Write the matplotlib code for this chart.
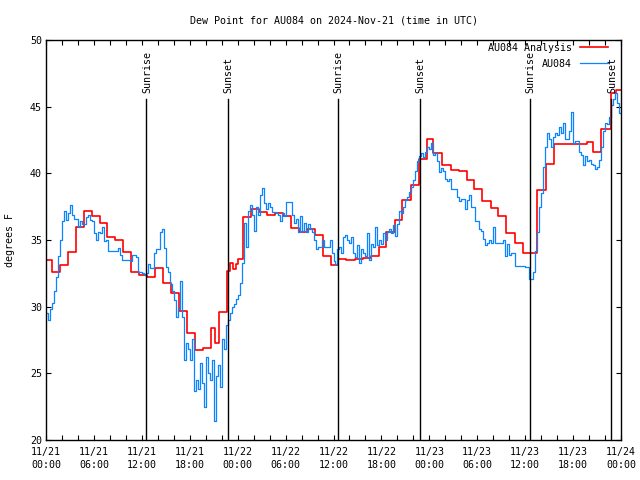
import numpy as np
import matplotlib
matplotlib.use("Agg")
import matplotlib.pyplot as plt

# analysis (hourly-ish steps): hours since 11/21 00:00 UTC, dew point F
red_t = [0, 0.7, 1.7, 2.7, 3.7, 4.7, 5.7, 6.7, 7.7, 8.7, 9.7, 10.7, 11.7,
         12.7, 13.7, 14.7, 15.7, 16.7, 17.7, 18.7, 19.7, 20.7, 21.2, 21.7,
         22.7, 23.0, 23.4, 23.8, 24.1, 24.7, 25.7, 26.7, 27.7, 28.7, 29.7,
         30.7, 31.7, 32.7, 33.7, 34.7, 35.7, 36.6, 37.6, 38.7, 39.7, 40.7,
         41.7, 42.6, 43.7, 44.6, 45.7, 46.7, 47.75, 48.5, 49.6, 50.7, 51.7,
         52.7, 53.6, 54.6, 55.7, 56.6, 57.6, 58.7, 59.7, 61.5, 62.6, 63.6,
         67.7, 68.5, 69.5, 70.7, 71.4, 72]
red_v = [33.5, 32.6, 33.1, 34.1, 35.95, 37.15, 36.8, 36.25, 35.2, 35.0, 34.1,
         32.6, 32.35, 32.2, 32.9, 31.8, 31.0, 29.7, 28.05, 26.75, 26.9, 28.4,
         27.25, 29.6, 32.7, 33.3, 32.8, 33.2, 33.55, 36.7, 37.3, 37.1, 36.9,
         37.0, 36.8, 35.9, 35.6, 35.8, 35.4, 33.8, 33.1, 33.55, 33.5, 33.55,
         33.67, 33.8, 34.5, 35.6, 36.5, 38.0, 39.1, 41.05, 42.55, 41.55, 40.6,
         40.25, 40.15, 39.5, 38.8, 37.95, 37.4, 36.8, 35.5, 34.75, 34.0, 38.75,
         40.7, 42.2, 42.35, 41.6, 43.3, 46.0, 46.25, 46.25]

# station obs, every 15 minutes from 11/21 00:00
blue_v = [
    29.5, 29.0, 29.8, 30.3, 31.2, 32.2, 33.8, 35.0, 36.4, 37.2, 36.5, 37.0,
    37.6, 36.9, 36.6, 36.6, 36.0, 36.4, 36.2, 36.2, 36.7, 36.9, 36.5, 36.4,
    35.5, 35.0, 35.6, 35.5, 36.0, 34.9, 35.0, 34.2, 34.2, 34.2, 34.2, 34.2,
    34.4, 33.9, 33.5, 33.5, 33.5, 33.5, 33.4, 33.9, 33.9, 33.7, 32.6, 32.6,
    32.5, 32.4, 32.5, 33.2, 32.9, 32.9, 34.0, 34.3, 34.3, 35.6, 35.8, 34.4,
    33.0, 32.6, 31.7, 31.2, 30.5, 29.2, 29.8, 31.9, 29.2, 26.0, 27.3, 26.8,
    26.0, 27.6, 23.7, 24.5, 23.8, 25.8, 24.3, 22.5, 26.2, 25.0, 24.5, 26.0,
    21.4, 24.8, 25.6, 24.0, 27.6, 26.8, 28.6, 29.0, 29.5, 30.0, 30.2, 30.6,
    30.9, 31.8, 33.3, 36.3, 34.5, 37.2, 37.6, 36.9, 35.7, 37.5, 36.9, 38.4,
    38.9, 37.8, 37.3, 37.8, 37.5, 37.1, 37.1, 37.0, 36.9, 36.4, 37.0, 36.8,
    37.85, 37.85, 37.85, 36.9, 36.3, 36.6, 35.6, 36.8, 35.7, 36.3, 35.6, 36.2,
    35.8, 35.6, 35.0, 34.3, 34.5, 34.5, 35.0, 34.5, 34.5, 34.5, 35.0, 34.0,
    33.4, 33.2, 34.3, 34.5, 34.0, 35.2, 35.4, 35.0, 34.8, 35.2, 34.0, 33.7,
    34.6, 33.3, 34.3, 34.0, 33.8, 35.5, 33.5, 34.7, 34.5, 36.0, 34.6, 35.0,
    34.7, 35.5, 35.0, 35.6, 35.8, 35.5, 36.1, 35.3, 36.2, 37.2, 37.0, 37.5,
    38.0, 38.2, 38.6, 39.0, 39.5, 40.2, 40.9, 41.3, 41.5, 41.2, 41.6, 42.0,
    41.8, 42.3, 41.4, 41.5, 40.9, 40.1, 40.4, 40.2, 39.6, 39.4, 39.6, 38.8,
    38.8, 38.8, 38.2, 37.9, 38.1, 38.1, 37.3, 38.0, 38.4, 37.5, 37.5, 36.4,
    36.4, 35.8, 35.7, 35.1, 34.6, 34.8, 35.0, 34.8, 36.0, 34.75, 34.75, 34.75,
    34.75, 35.0, 33.8, 34.7, 33.9, 34.0, 34.0, 33.05, 33.05, 33.05, 33.05, 33.05,
    33.0, 33.0, 32.05, 32.05, 32.6, 34.2, 35.6, 37.5, 38.5, 40.5, 42.0, 43.0,
    42.6, 42.0, 42.7, 43.0, 42.9, 43.5, 43.0, 43.8, 42.6, 42.6, 43.2, 44.6,
    42.3, 42.4, 42.4, 41.6, 41.4, 40.6, 41.3, 40.9, 41.0, 40.7, 40.6, 40.3,
    40.5, 41.0, 42.0, 43.2, 43.8, 43.7, 44.2, 45.1, 45.6, 46.0, 45.3, 44.5,
    44.5]

sun_t = [12.55, 22.78, 36.55, 46.79, 60.55, 70.8]
sun_lbl = ["Sunrise", "Sunset", "Sunrise", "Sunset", "Sunrise", "Sunset"]

xtick_pos = list(range(0, 73, 6))
xtick_lbl = ["11/21\n00:00", "11/21\n06:00", "11/21\n12:00", "11/21\n18:00",
             "11/22\n00:00", "11/22\n06:00", "11/22\n12:00", "11/22\n18:00",
             "11/23\n00:00", "11/23\n06:00", "11/23\n12:00", "11/23\n18:00",
             "11/24\n00:00"]

plt.rcParams['font.family'] = 'DejaVu Sans Mono'
plt.rcParams['font.size'] = 7.2

fig = plt.figure(figsize=(6.4, 4.8), dpi=100)
ax = fig.add_axes([46/640, 40/480, 575/640, 400/480])

blue_t = np.arange(len(blue_v)) * 0.25
ax.step(red_t, red_v, where='post', color='#ff0000', lw=1.2, label='AU084 Analysis')
ax.step(blue_t, blue_v, where='post', color='#0a84ff', lw=0.9, label='AU084')

for t, lbl in zip(sun_t, sun_lbl):
    ax.plot([t, t], [20, 45.6], color='black', lw=1.0)
    ax.text(t + 0.1, 46.05, lbl, rotation=90, ha='center', va='bottom')

ax.set_xlim(0, 72)
ax.set_ylim(20, 50)
ax.set_xticks(xtick_pos)
ax.set_xticklabels(xtick_lbl, linespacing=1.4)
ax.set_xticks(range(0, 73, 2), minor=True)
ax.set_yticks(range(20, 51, 5))
ax.tick_params(which='both', direction='in', top=True, right=True, length=3.5, width=0.8, pad=3)
ax.tick_params(axis='x', pad=5)
for s in ax.spines.values():
    s.set_linewidth(1.0)

ax.set_ylabel('degrees F', fontsize=7.2, labelpad=11)
ax.set_title('Dew Point for AU084 on 2024-Nov-21 (time in UTC)', fontsize=7.2, pad=12)

leg = ax.legend(loc='upper right', bbox_to_anchor=(0.99, 1.01), frameon=False,
                markerfirst=False, handlelength=2.8, handletextpad=0.8,
                labelspacing=0.6, borderaxespad=0.3)

fig.savefig('out.png', dpi=100)
